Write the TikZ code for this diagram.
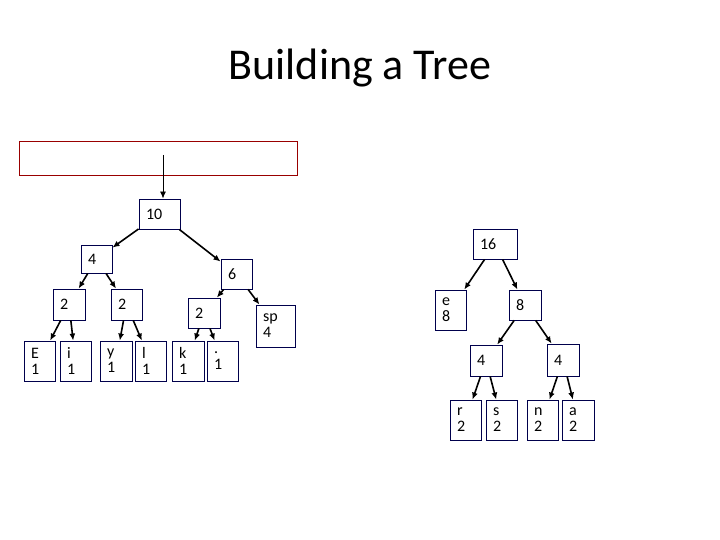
\documentclass[tikz,border=0pt]{standalone}
\usepackage{fontspec}
\setmainfont{Carlito}
\usetikzlibrary{arrows.meta}
\begin{document}
\begin{tikzpicture}[x=1pt,y=-1pt,
  box/.style={draw=blue!30!black, line width=0.9pt, inner sep=0pt, font=\fontsize{16}{16}\selectfont},
  arr/.style={-{Latex[length=7pt,width=6pt]}, line width=1.6pt, black}]
\useasboundingbox (0,0) rectangle (720,540);
\newcommand{\bx}[6]{\node[box, minimum width={#4-#2}, minimum height={#5-#3}, text width={#4-#2-14}, align=left] (#1) at ({(#2+#4)/2},{(#3+#5)/2}) {#6};}
\node[font=\fontsize{44}{44}\selectfont] (title) at (360,68) {Building a Tree};
\node[draw=red!60!black, line width=0.9pt, minimum width=278, minimum height=34, inner sep=0pt] (top) at (158,158) {};
\coordinate (src) at (163,155);
\bx{n10}{139}{199}{180}{229}{10}
\bx{n4}{81}{245}{112}{273}{4}
\bx{n6}{221}{259}{252}{289}{6}
\bx{n2a}{53}{289}{85}{320}{2}
\bx{n2b}{111}{289}{142}{320}{2}
\bx{n2c}{188}{298}{220}{328}{2}
\bx{sp}{256}{305}{295}{347}{sp\\4}
\bx{E}{24}{341}{55}{381}{E\\1}
\bx{i}{60}{341}{91}{381}{i\\1}
\bx{y}{100}{341}{132}{381}{y\\1}
\bx{l}{135}{341}{166}{381}{l\\1}
\bx{k}{172}{341}{204}{381}{k\\1}
\bx{dot}{207}{341}{238}{381}{.\\1}
\bx{n16}{473}{229}{517}{259}{16}
\bx{e}{435}{290}{466}{330}{e\\8}
\bx{n8}{509}{290}{541}{320}{8}
\bx{n4a}{470}{345}{502}{376}{4}
\bx{n4b}{547}{344}{579}{376}{4}
\bx{r}{450}{400}{481}{440}{r\\2}
\bx{s}{486}{400}{517}{440}{s\\2}
\bx{nn}{527}{400}{558}{440}{n\\2}
\bx{a}{562}{400}{594}{440}{a\\2}
\draw[-{Latex[length=7pt,width=6pt]}, line width=0.9pt] (src) -- (n10.north -| src);
\foreach \p/\c in {n10/n4,n10/n6,n4/n2a,n4/n2b,n6/n2c,n6/sp,n2a/E,n2a/i,n2b/y,n2b/l,n2c/k,n2c/dot,n16/e,n16/n8,n8/n4a,n8/n4b,n4a/r,n4a/s,n4b/nn,n4b/a}
  \draw[arr] (\p) -- (\c);
\end{tikzpicture}
\end{document}
